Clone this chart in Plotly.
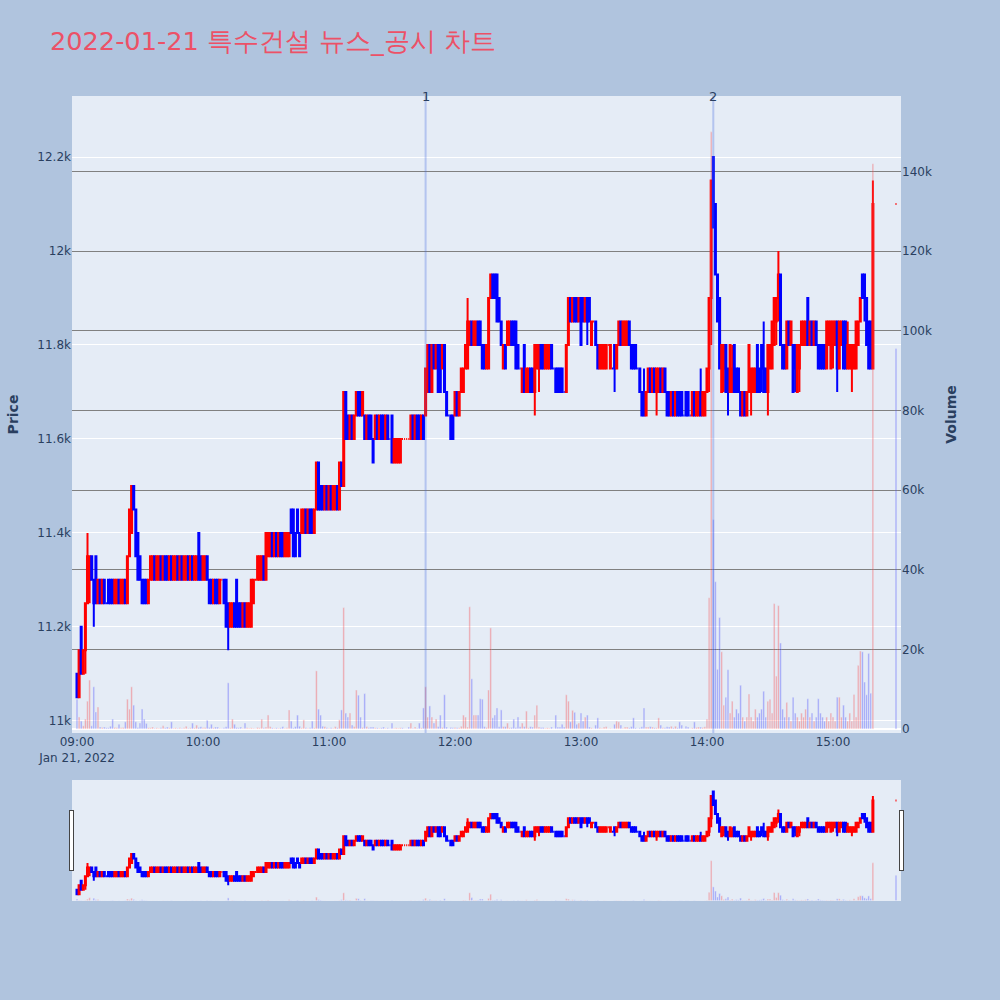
import pandas as pd
import plotly.graph_objects as go
from plotly.subplots import make_subplots

TITLE = "2022-01-21 특수건설 뉴스_공시 차트"
DAY = "2022-01-21"

# one bar per minute 09:00 .. 15:19, then the 15:30 closing auction
opens = [
    11100, 11050, 11200, 11100, 11150, 11250, 11300, 11350, 11300, 11350,
    11250, 11300, 11250, 11300, 11250, 11300, 11300, 11300, 11250, 11250,
    11300, 11250, 11250, 11300, 11250, 11350, 11400, 11500, 11450, 11400,
    11350, 11300, 11300, 11300, 11250, 11300, 11300, 11350, 11300, 11300,
    11350, 11300, 11350, 11350, 11300, 11350, 11300, 11300, 11350, 11300,
    11350, 11300, 11300, 11350, 11300, 11350, 11300, 11300, 11400, 11350,
    11300, 11300, 11350, 11300, 11300, 11250, 11300, 11300, 11250, 11300,
    11300, 11300, 11250, 11200, 11200, 11250, 11300, 11250, 11250, 11200,
    11250, 11200, 11200, 11200, 11250, 11300, 11300, 11300, 11300, 11350,
    11300, 11350, 11350, 11400, 11350, 11400, 11350, 11400, 11400, 11350,
    11350, 11350, 11450, 11450, 11400, 11450, 11400, 11400, 11400, 11450,
    11400, 11450, 11450, 11400, 11450, 11550, 11500, 11500, 11450, 11500,
    11450, 11500, 11450, 11450, 11500, 11450, 11550, 11500, 11700, 11650,
    11600, 11650, 11600, 11650, 11700, 11700, 11650, 11650, 11600, 11650,
    11650, 11600, 11600, 11650, 11600, 11650, 11650, 11600, 11650, 11600,
    11650, 11550, 11550, 11550, 11550, 11600, 11600, 11600, 11600, 11600,
    11650, 11600, 11650, 11650, 11600, 11650, 11650, 11700, 11800, 11700,
    11800, 11750, 11800, 11800, 11750, 11800, 11700, 11650, 11650, 11650,
    11650, 11700, 11650, 11700, 11700, 11750, 11750, 11800, 11850, 11800,
    11800, 11850, 11850, 11800, 11800, 11750, 11750, 11900, 11950, 11950,
    11950, 11900, 11850, 11750, 11800, 11800, 11800, 11850, 11850, 11850,
    11800, 11750, 11700, 11800, 11700, 11700, 11750, 11750, 11700, 11750,
    11750, 11800, 11800, 11750, 11750, 11750, 11800, 11750, 11750, 11750,
    11750, 11750, 11700, 11700, 11800, 11900, 11850, 11900, 11900, 11850,
    11900, 11900, 11850, 11900, 11900, 11800, 11850, 11850, 11800, 11750,
    11750, 11750, 11750, 11800, 11750, 11750, 11800, 11750, 11800, 11850,
    11800, 11800, 11800, 11850, 11800, 11800, 11800, 11750, 11750, 11700,
    11700, 11650, 11700, 11750, 11700, 11750, 11700, 11700, 11750, 11700,
    11750, 11700, 11700, 11650, 11700, 11650, 11700, 11700, 11700, 11650,
    11700, 11700, 11650, 11650, 11700, 11650, 11650, 11700, 11650, 11650,
    11700, 11750, 11900, 12200, 12100, 11950, 11900, 11700, 11750, 11800,
    11750, 11700, 11700, 11800, 11750, 11750, 11700, 11650, 11700, 11650,
    11700, 11700, 11700, 11700, 11800, 11750, 11800, 11750, 11750, 11700,
    11750, 11750, 11800, 11850, 11900, 11950, 11800, 11800, 11750, 11850,
    11800, 11800, 11800, 11700, 11750, 11800, 11800, 11800, 11900, 11800,
    11850, 11800, 11850, 11800, 11800, 11800, 11800, 11750, 11800, 11750,
    11800, 11800, 11850, 11750, 11800, 11850, 11850, 11750, 11750, 11750,
    11750, 11750, 11800, 11850, 11950, 11950, 11900, 11850, 11850, 11750,
    12100,
]
highs = [
    11100, 11150, 11200, 11150, 11250, 11400, 11350, 11350, 11300, 11350,
    11300, 11300, 11300, 11300, 11250, 11300, 11300, 11300, 11300, 11300,
    11300, 11300, 11300, 11300, 11350, 11450, 11500, 11500, 11450, 11400,
    11350, 11300, 11300, 11300, 11300, 11350, 11350, 11350, 11350, 11350,
    11350, 11350, 11350, 11350, 11350, 11350, 11350, 11350, 11350, 11350,
    11350, 11350, 11350, 11350, 11350, 11350, 11350, 11350, 11400, 11350,
    11350, 11350, 11350, 11300, 11300, 11300, 11300, 11300, 11300, 11300,
    11300, 11300, 11250, 11250, 11250, 11250, 11300, 11250, 11250, 11250,
    11250, 11250, 11250, 11300, 11300, 11300, 11350, 11350, 11350, 11350,
    11400, 11400, 11400, 11400, 11400, 11400, 11400, 11400, 11400, 11400,
    11400, 11400, 11450, 11450, 11400, 11450, 11400, 11450, 11450, 11450,
    11450, 11450, 11450, 11450, 11550, 11550, 11500, 11500, 11500, 11500,
    11500, 11500, 11500, 11500, 11500, 11550, 11550, 11700, 11700, 11650,
    11650, 11650, 11650, 11700, 11700, 11700, 11700, 11650, 11650, 11650,
    11650, 11600, 11650, 11650, 11650, 11650, 11650, 11650, 11650, 11600,
    11650, 11600, 11600, 11600, 11600, 11600, 11600, 11600, 11600, 11650,
    11650, 11650, 11650, 11650, 11650, 11650, 11750, 11800, 11800, 11800,
    11800, 11800, 11800, 11800, 11800, 11800, 11700, 11650, 11650, 11650,
    11700, 11700, 11700, 11750, 11750, 11800, 11900, 11850, 11850, 11850,
    11850, 11850, 11850, 11800, 11800, 11800, 11900, 11950, 11950, 11950,
    11950, 11900, 11850, 11800, 11800, 11850, 11850, 11850, 11850, 11850,
    11800, 11750, 11750, 11800, 11750, 11750, 11750, 11750, 11800, 11800,
    11800, 11800, 11800, 11800, 11800, 11800, 11800, 11750, 11750, 11750,
    11750, 11750, 11700, 11800, 11900, 11900, 11900, 11900, 11900, 11900,
    11900, 11900, 11900, 11900, 11900, 11850, 11850, 11850, 11800, 11800,
    11800, 11800, 11800, 11800, 11800, 11750, 11800, 11800, 11850, 11850,
    11850, 11850, 11850, 11850, 11800, 11800, 11800, 11750, 11750, 11700,
    11750, 11700, 11750, 11750, 11750, 11750, 11750, 11750, 11750, 11750,
    11750, 11700, 11700, 11700, 11700, 11700, 11700, 11700, 11700, 11650,
    11700, 11700, 11650, 11700, 11700, 11700, 11700, 11750, 11700, 11700,
    11750, 11900, 12150, 12200, 12100, 11950, 11900, 11800, 11800, 11800,
    11750, 11800, 11800, 11800, 11750, 11750, 11700, 11700, 11700, 11700,
    11800, 11750, 11750, 11750, 11800, 11750, 11800, 11850, 11750, 11800,
    11800, 11850, 11900, 11900, 12000, 11950, 11800, 11800, 11850, 11850,
    11850, 11800, 11800, 11800, 11800, 11850, 11850, 11850, 11900, 11850,
    11850, 11850, 11850, 11800, 11800, 11800, 11800, 11850, 11850, 11850,
    11850, 11850, 11850, 11850, 11850, 11850, 11850, 11850, 11800, 11800,
    11800, 11850, 11850, 11900, 11950, 11950, 11900, 11850, 11850, 12150,
    12100,
]
lows = [
    11050, 11050, 11100, 11100, 11100, 11250, 11250, 11300, 11200, 11250,
    11250, 11250, 11250, 11250, 11250, 11250, 11250, 11250, 11250, 11250,
    11250, 11250, 11250, 11250, 11250, 11350, 11400, 11450, 11350, 11300,
    11300, 11250, 11250, 11250, 11250, 11300, 11300, 11300, 11300, 11300,
    11300, 11300, 11300, 11300, 11300, 11300, 11300, 11300, 11300, 11300,
    11300, 11300, 11300, 11300, 11300, 11300, 11300, 11300, 11300, 11300,
    11300, 11300, 11300, 11250, 11250, 11250, 11250, 11250, 11250, 11300,
    11250, 11200, 11150, 11200, 11200, 11200, 11200, 11200, 11200, 11200,
    11200, 11200, 11200, 11200, 11250, 11300, 11300, 11300, 11300, 11300,
    11300, 11350, 11350, 11350, 11350, 11350, 11350, 11350, 11350, 11350,
    11350, 11350, 11400, 11350, 11350, 11400, 11350, 11400, 11400, 11400,
    11400, 11400, 11400, 11400, 11450, 11450, 11450, 11450, 11450, 11450,
    11450, 11450, 11450, 11450, 11450, 11450, 11500, 11500, 11600, 11600,
    11600, 11600, 11600, 11650, 11650, 11650, 11650, 11600, 11600, 11600,
    11600, 11550, 11600, 11600, 11600, 11600, 11600, 11600, 11600, 11600,
    11550, 11550, 11550, 11550, 11550, 11600, 11600, 11600, 11600, 11600,
    11600, 11600, 11600, 11600, 11600, 11600, 11650, 11700, 11700, 11700,
    11750, 11750, 11700, 11700, 11750, 11700, 11650, 11650, 11600, 11600,
    11650, 11650, 11650, 11700, 11700, 11750, 11750, 11800, 11800, 11800,
    11800, 11800, 11800, 11750, 11750, 11750, 11750, 11900, 11900, 11900,
    11850, 11850, 11800, 11750, 11750, 11800, 11800, 11800, 11800, 11750,
    11750, 11750, 11700, 11700, 11700, 11700, 11700, 11700, 11650, 11750,
    11700, 11750, 11750, 11750, 11750, 11750, 11750, 11750, 11700, 11700,
    11700, 11700, 11700, 11700, 11800, 11850, 11850, 11850, 11850, 11850,
    11800, 11850, 11850, 11800, 11850, 11800, 11850, 11800, 11750, 11750,
    11750, 11750, 11750, 11800, 11750, 11750, 11700, 11750, 11800, 11800,
    11800, 11800, 11800, 11800, 11750, 11750, 11750, 11750, 11700, 11650,
    11650, 11650, 11700, 11700, 11700, 11700, 11650, 11700, 11700, 11700,
    11700, 11650, 11650, 11650, 11650, 11650, 11650, 11650, 11650, 11650,
    11650, 11650, 11650, 11650, 11650, 11650, 11650, 11650, 11650, 11650,
    11700, 11700, 11800, 12050, 11950, 11850, 11750, 11700, 11700, 11700,
    11650, 11700, 11700, 11700, 11700, 11700, 11650, 11650, 11650, 11650,
    11700, 11650, 11700, 11700, 11700, 11700, 11700, 11700, 11700, 11650,
    11750, 11750, 11800, 11800, 11850, 11800, 11750, 11750, 11750, 11800,
    11800, 11700, 11700, 11700, 11700, 11800, 11800, 11800, 11800, 11800,
    11800, 11800, 11800, 11750, 11750, 11750, 11750, 11750, 11800, 11750,
    11750, 11800, 11700, 11750, 11800, 11750, 11750, 11750, 11750, 11700,
    11750, 11750, 11800, 11850, 11900, 11850, 11800, 11750, 11750, 11750,
    12100,
]
closes = [
    11050, 11150, 11100, 11150, 11250, 11350, 11350, 11300, 11250, 11250,
    11300, 11250, 11300, 11250, 11250, 11250, 11250, 11250, 11300, 11300,
    11250, 11300, 11300, 11250, 11350, 11450, 11500, 11450, 11350, 11300,
    11300, 11250, 11250, 11250, 11300, 11350, 11350, 11300, 11350, 11350,
    11300, 11350, 11300, 11300, 11350, 11300, 11350, 11350, 11300, 11350,
    11300, 11350, 11350, 11300, 11350, 11300, 11350, 11350, 11300, 11300,
    11350, 11350, 11300, 11250, 11250, 11300, 11250, 11250, 11300, 11300,
    11250, 11200, 11200, 11250, 11250, 11200, 11200, 11200, 11200, 11250,
    11200, 11250, 11250, 11300, 11300, 11300, 11350, 11350, 11350, 11300,
    11400, 11400, 11400, 11350, 11400, 11350, 11400, 11350, 11350, 11400,
    11400, 11400, 11400, 11350, 11350, 11400, 11350, 11450, 11450, 11400,
    11450, 11400, 11400, 11450, 11550, 11450, 11450, 11450, 11500, 11450,
    11500, 11450, 11500, 11500, 11450, 11550, 11500, 11700, 11600, 11600,
    11650, 11600, 11650, 11700, 11650, 11650, 11700, 11600, 11650, 11600,
    11600, 11550, 11650, 11600, 11650, 11600, 11600, 11650, 11600, 11600,
    11550, 11600, 11600, 11600, 11600, 11600, 11600, 11600, 11600, 11650,
    11600, 11650, 11600, 11600, 11650, 11600, 11750, 11800, 11700, 11800,
    11750, 11800, 11700, 11700, 11800, 11700, 11650, 11650, 11600, 11600,
    11700, 11650, 11700, 11750, 11750, 11800, 11850, 11850, 11800, 11850,
    11850, 11800, 11800, 11750, 11750, 11800, 11900, 11950, 11900, 11900,
    11850, 11850, 11800, 11800, 11750, 11850, 11850, 11800, 11800, 11750,
    11750, 11750, 11750, 11700, 11750, 11750, 11700, 11700, 11800, 11800,
    11800, 11750, 11750, 11800, 11800, 11800, 11750, 11750, 11700, 11700,
    11700, 11700, 11700, 11800, 11900, 11850, 11900, 11850, 11850, 11900,
    11800, 11850, 11900, 11850, 11850, 11850, 11850, 11800, 11750, 11800,
    11800, 11800, 11800, 11800, 11800, 11750, 11750, 11800, 11850, 11800,
    11850, 11850, 11850, 11800, 11750, 11750, 11750, 11750, 11700, 11650,
    11650, 11700, 11750, 11700, 11750, 11700, 11750, 11750, 11700, 11750,
    11700, 11650, 11650, 11700, 11650, 11700, 11650, 11650, 11650, 11650,
    11650, 11650, 11650, 11700, 11650, 11700, 11700, 11650, 11700, 11700,
    11750, 11900, 12150, 12050, 11950, 11850, 11750, 11800, 11800, 11700,
    11700, 11800, 11750, 11700, 11700, 11700, 11650, 11700, 11650, 11700,
    11800, 11750, 11750, 11750, 11700, 11700, 11750, 11700, 11700, 11800,
    11800, 11850, 11900, 11900, 11950, 11800, 11750, 11750, 11850, 11800,
    11850, 11700, 11750, 11800, 11800, 11850, 11850, 11850, 11800, 11850,
    11800, 11850, 11800, 11750, 11750, 11750, 11750, 11850, 11850, 11850,
    11850, 11850, 11750, 11850, 11850, 11750, 11750, 11800, 11800, 11800,
    11800, 11850, 11850, 11900, 11900, 11900, 11800, 11750, 11750, 12100,
    12100,
]
volumes = [
    7500, 3000, 2000, 800, 2500, 7000, 12300, 800, 10600, 4300,
    5500, 500, 400, 500, 300, 300, 700, 2500, 400, 300,
    1200, 300, 400, 1800, 7500, 5000, 10600, 6000, 1800, 400,
    1500, 5000, 2500, 1400, 300, 300, 500, 200, 300, 200,
    300, 800, 300, 500, 300, 1800, 200, 300, 200, 300,
    200, 300, 700, 200, 300, 1500, 300, 1000, 400, 600,
    300, 400, 2200, 400, 1200, 300, 500, 500, 200, 100,
    300, 600, 11600, 300, 2500, 1200, 400, 300, 500, 200,
    1500, 300, 200, 300, 200, 100, 400, 300, 2500, 300,
    500, 3500, 600, 300, 200, 300, 200, 300, 600, 200,
    300, 4800, 2000, 300, 600, 3500, 700, 300, 2300, 300,
    200, 300, 2000, 300, 14600, 5000, 3500, 700, 600, 300,
    200, 300, 200, 600, 300, 2300, 4800, 30500, 4000, 3000,
    4000, 1000, 600, 9800, 8500, 3000, 400, 8900, 600, 300,
    500, 500, 300, 300, 200, 300, 500, 200, 300, 100,
    1500, 200, 300, 200, 300, 300, 100, 100, 500, 1500,
    200, 500, 200, 1500, 300, 5300, 10600, 3000, 5800, 3000,
    1500, 2500, 600, 3500, 400, 8600, 500, 100, 400, 300,
    400, 300, 300, 700, 3500, 3000, 500, 30700, 12600, 3500,
    3500, 3500, 7600, 7500, 600, 400, 9800, 25400, 2800, 3500,
    5300, 600, 4800, 600, 600, 1500, 300, 400, 2500, 400,
    3000, 600, 1500, 600, 4500, 300, 600, 500, 3500, 6000,
    500, 400, 400, 200, 300, 200, 500, 100, 3500, 500,
    500, 1200, 500, 8600, 7000, 1800, 4700, 4200, 1200, 1500,
    4000, 2000, 3000, 3500, 500, 300, 100, 1000, 2800, 300,
    200, 500, 600, 100, 200, 100, 1200, 2000, 1800, 1000,
    200, 500, 500, 300, 600, 2800, 300, 100, 300, 600,
    5300, 500, 500, 600, 500, 300, 300, 2800, 1000, 300,
    300, 600, 500, 700, 300, 700, 300, 1800, 1000, 100,
    700, 500, 100, 300, 1800, 400, 500, 500, 400, 600,
    2500, 33000, 150000, 52600, 37000, 15000, 28000, 19400, 6000, 8000,
    14900, 4000, 7000, 3000, 5000, 4000, 11000, 3000, 2000, 3000,
    8800, 3000, 2000, 5000, 3000, 4000, 5000, 9500, 3000, 7000,
    7500, 4000, 31500, 13300, 31000, 21600, 5000, 3000, 6700, 3000,
    2000, 8000, 4000, 3000, 2000, 4000, 3000, 5000, 7600, 3000,
    4000, 2000, 3000, 7600, 4000, 3000, 2000, 3000, 2000, 4000,
    3000, 2000, 8000, 8000, 3000, 6000, 3000, 2000, 4000, 2000,
    8700, 3000, 16000, 19600, 19400, 11800, 8600, 19000, 9000, 142000,
    95600,
]

EVENT_TIMES = ["2022-01-21 11:46", "2022-01-21 14:03"]
EVENT_LABELS = ["1", "2"]

times = list(pd.date_range(f"{DAY} 09:00", f"{DAY} 15:19", freq="min"))
times.append(pd.Timestamp(f"{DAY} 15:30"))

vol_colors = ["red" if c > o else "blue" for o, c in zip(opens, closes)]

fig = make_subplots(specs=[[{"secondary_y": True}]])
fig.add_trace(go.Candlestick(
    x=times, open=opens, high=highs, low=lows, close=closes,
    increasing=dict(line=dict(color="red"), fillcolor="red"),
    decreasing=dict(line=dict(color="blue"), fillcolor="blue"),
    name="Price", showlegend=False,
), secondary_y=False)
fig.add_trace(go.Bar(
    x=times, y=volumes, marker_color=vol_colors, opacity=0.3,
    name="Volume", showlegend=False,
), secondary_y=True)

for t, label in zip(EVENT_TIMES, EVENT_LABELS):
    fig.add_shape(type="line", xref="x", yref="paper", x0=t, x1=t, y0=0, y1=1,
                  line=dict(color="royalblue", width=2), opacity=0.3)
    fig.add_annotation(x=t, y=1, xref="x", yref="paper", text=label,
                       showarrow=False, yanchor="middle",
                       font=dict(size=13, color="#2a3f5f"))

x_range = ["2022-01-21 08:57:37", "2022-01-21 15:32:23"]
fig.update_xaxes(range=x_range, domain=[0, 1], showgrid=False,
                 rangeslider=dict(visible=True, thickness=0.15, range=x_range,
                                  bgcolor="#E5ECF6"))
fig.update_yaxes(title_text="Price", title_font=dict(size=14, weight="bold"),
                 range=[10974, 12330], dtick=200, automargin=False,
                 secondary_y=False)
fig.update_yaxes(title_text="Volume", title_font=dict(size=14, weight="bold"),
                 range=[-1000, 159000], dtick=20000, showgrid=True,
                 gridcolor="grey", gridwidth=1, automargin=False,
                 secondary_y=True)

fig.update_layout(
    title=dict(text=TITLE, x=0.05, y=0.959, yanchor="middle",
               font=dict(size=25.6, color="#EC5167")),
    font=dict(family="DejaVu Sans", size=12),
    paper_bgcolor="lightsteelblue",
    width=1000, height=1000,
    margin=dict(l=72, r=99, t=96, b=100),
    showlegend=False,
)

slider_vol = dict(rangemode="fixed", range=[0, 450000])
try:
    fig.update_layout(xaxis_rangeslider_yaxis2=slider_vol)
except ValueError:
    fig._layout["xaxis"]["rangeslider"]["yaxis2"] = slider_vol

fig.write_html("out.html", config={"displayModeBar": False},
               post_script="document.body.style.margin = '0';")
